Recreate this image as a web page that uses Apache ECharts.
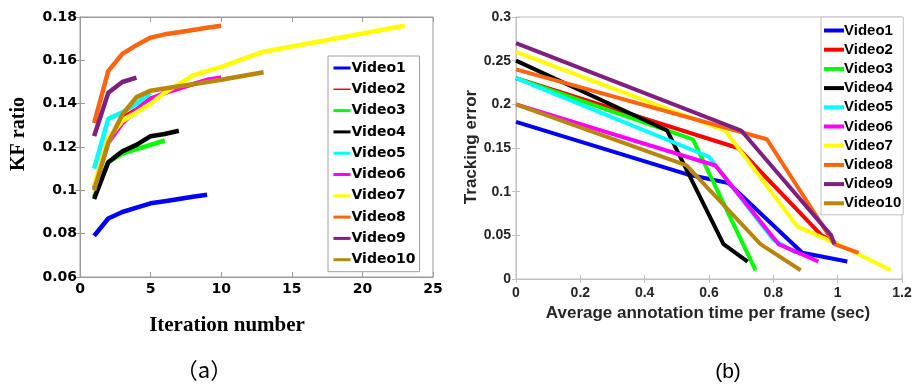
<!DOCTYPE html>
<html>
<head>
<meta charset="utf-8">
<script src="https://cdn.jsdelivr.net/npm/echarts@6/dist/echarts.min.js"></script>
<style>html,body{margin:0;padding:0;background:#fff;}#c{width:916px;height:384px;}</style>
</head>
<body>
<div id="c"></div>
<script>
// ---- Data ----
const names = ['Video1','Video2','Video3','Video4','Video5','Video6','Video7','Video8','Video9','Video10'];
const colors = ['#0000ff','#ff0000','#00ff00','#000000','#00ffff','#ff00ff','#ffff00','#ff6410','#7f1f7f','#b8860b'];

// (a) KF ratio vs iteration number
const iter1 = [1,2,3,4,5,6,7,8,9];
const kf1 = [0.079,0.087,0.090,0.092,0.094,0.095,0.096,0.097,0.098];
const iter2 = [1,2,3,4,5,6,7,8,9,10];
const kf2 = [0.101,0.122,0.134,0.138,0.143,0.145,0.147,0.149,0.151,0.152];
const iter3 = [1,2,3,4,5,6];
const kf3 = [0.097,0.113,0.117,0.119,0.121,0.123];
const iter4 = [1,2,3,4,5,6,7];
const kf4 = [0.096,0.113,0.118,0.121,0.125,0.126,0.1275];
const iter5 = [1,2,3,4,5];
const kf5 = [0.110,0.133,0.136,0.140,0.145];
const iter6 = [1,2,3,4,5,6,7,8,9,10];
const kf6 = [0.101,0.122,0.131,0.137,0.142,0.145,0.147,0.149,0.151,0.152];
const iter7 = [1,2,3,4,5,6,7,8,9,10,13,23];
const kf7 = [0.102,0.124,0.132,0.136,0.140,0.145,0.149,0.153,0.155,0.157,0.164,0.176];
const iter8 = [1,2,3,4,5,6,7,8,9,10];
const kf8 = [0.131,0.155,0.163,0.167,0.1705,0.172,0.173,0.174,0.175,0.176];
const iter9 = [1,2,3,4];
const kf9 = [0.125,0.145,0.150,0.152];
const iter10 = [1,2,3,4,5,6,7,8,9,10,13];
const kf10 = [0.100,0.122,0.135,0.143,0.146,0.147,0.148,0.149,0.150,0.151,0.1545];

// (b) Tracking error vs average annotation time per frame
const time1 = [0,0.53,0.66,0.89,1.03];
const err1 = [0.18,0.12,0.11,0.03,0.02];
const time2 = [0,0.69,0.95,1.0];
const err2 = [0.23,0.15,0.05,0.04];
const time3 = [0,0.55,0.745];
const err3 = [0.23,0.16,0.01];
const time4 = [0,0.47,0.645,0.72];
const err4 = [0.25,0.17,0.04,0.02];
const time5 = [0,0.60,0.80,0.87];
const err5 = [0.23,0.14,0.045,0.03];
const time6 = [0,0.62,0.816,0.94];
const err6 = [0.20,0.13,0.04,0.02];
const time7 = [0,0.65,0.875,1.0,1.165];
const err7 = [0.26,0.17,0.06,0.04,0.01];
const time8 = [0,0.78,0.99,1.065];
const err8 = [0.24,0.16,0.04,0.03];
const time9 = [0,0.70,0.98,0.99];
const err9 = [0.27,0.17,0.05,0.04];
const time10 = [0,0.53,0.76,0.885];
const err10 = [0.20,0.13,0.04,0.01];

const xTicksA = [0,5,10,15,20,25];
const yTicksA = [0.06,0.08,0.1,0.12,0.14,0.16,0.18];
const xTicksB = [0,0.2,0.4,0.6,0.8,1,1.2];
const yTicksB = [0,0.05,0.1,0.15,0.2,0.25,0.3];

// ---- Build ----
const itersA = [iter1,iter2,iter3,iter4,iter5,iter6,iter7,iter8,iter9,iter10];
const kfA = [kf1,kf2,kf3,kf4,kf5,kf6,kf7,kf8,kf9,kf10];
const timesB = [time1,time2,time3,time4,time5,time6,time7,time8,time9,time10];
const errsB = [err1,err2,err3,err4,err5,err6,err7,err8,err9,err10];
const zip = (a,b) => a.map((v,i)=>[v,b[i]]);

const fmt = v => String(+v.toFixed(2));
const fontA = 'DejaVu Sans';
const fontB = 'Liberation Sans';

function axisBase(color, labels, font, fontSize, labColor, margin, tickLen) {
  return {
    axisLine: {show: true, lineStyle: {color: color, width: 1}},
    axisTick: {show: true, inside: true, length: tickLen, lineStyle: {color: color}},
    splitLine: {show: false},
    axisLabel: {show: labels, fontFamily: font, fontWeight: 'bold', fontSize: fontSize, color: labColor, margin: margin, formatter: fmt}
  };
}

const xAxes = [
  Object.assign({type:'value', gridIndex:0, min:xTicksA[0], max:xTicksA[xTicksA.length-1], interval:5, position:'bottom'}, axisBase('#9a9a9a', true, fontA, 14, '#000', 5, 5)),
  Object.assign({type:'value', gridIndex:0, min:xTicksA[0], max:xTicksA[xTicksA.length-1], interval:5, position:'top'}, axisBase('#9a9a9a', false, fontA, 14, '#000', 5, 5)),
  Object.assign({type:'value', gridIndex:1, min:xTicksB[0], max:xTicksB[xTicksB.length-1], interval:0.2, position:'bottom'}, axisBase('#c0c0c0', true, fontB, 14, '#262626', 7, 4)),
  Object.assign({type:'value', gridIndex:1, min:xTicksB[0], max:xTicksB[xTicksB.length-1], interval:0.2, position:'top'}, axisBase('#c0c0c0', false, fontB, 14, '#262626', 7, 4))
];
const yAxes = [
  Object.assign({type:'value', gridIndex:0, min:yTicksA[0], max:yTicksA[yTicksA.length-1], interval:0.02, position:'left'}, axisBase('#9a9a9a', true, fontA, 14, '#000', 3, 5)),
  Object.assign({type:'value', gridIndex:0, min:yTicksA[0], max:yTicksA[yTicksA.length-1], interval:0.02, position:'right'}, axisBase('#9a9a9a', false, fontA, 14, '#000', 3, 5)),
  Object.assign({type:'value', gridIndex:1, min:yTicksB[0], max:yTicksB[yTicksB.length-1], interval:0.05, position:'left'}, axisBase('#c0c0c0', true, fontB, 14, '#262626', 5, 4)),
  Object.assign({type:'value', gridIndex:1, min:yTicksB[0], max:yTicksB[yTicksB.length-1], interval:0.05, position:'right'}, axisBase('#c0c0c0', false, fontB, 14, '#262626', 5, 4))
];

const series = [];
names.forEach((n,i)=>{
  series.push({
    name: n, type: 'line', xAxisIndex: 0, yAxisIndex: 0,
    data: zip(itersA[i], kfA[i]), symbol: 'none', showSymbol: false, smooth: false, silent: true,
    lineStyle: {color: colors[i], width: i === 1 ? 2 : 4.5}, itemStyle: {color: colors[i]},
    z: 2 + i * 0.01
  });
});
names.forEach((n,i)=>{
  series.push({
    name: n, type: 'line', xAxisIndex: 2, yAxisIndex: 2,
    data: zip(timesB[i], errsB[i]), symbol: 'none', showSymbol: false, smooth: false, silent: true,
    lineStyle: {color: colors[i], width: 4}, itemStyle: {color: colors[i]},
    z: 2 + i * 0.01
  });
});

const legendA = {
  orient: 'vertical', left: 328, top: 56, padding: [4.5, 4, 4.5, 4],
  itemWidth: 17, itemHeight: 14, itemGap: 6.3,
  borderColor: '#a0a0a0', borderWidth: 1, backgroundColor: '#fff',
  selectedMode: false,
  textStyle: {fontFamily: fontA, fontWeight: 'bold', fontSize: 14, color: '#000', lineHeight: 15, padding: [0,0,0,-4]},
  itemStyle: {opacity: 0},
  lineStyle: {width: 3},
  data: names.map((n,i)=> i === 1 ? {name: n, lineStyle: {width: 1.5}} : {name: n})
};
const legendB = {
  orient: 'vertical', left: 821, top: 17, padding: [6, 2, 4, 1],
  itemWidth: 20, itemHeight: 14, itemGap: 4.2,
  borderColor: '#c0c0c0', borderWidth: 1, backgroundColor: '#fff',
  selectedMode: false,
  textStyle: {fontFamily: fontB, fontWeight: 'bold', fontSize: 15, color: '#000', lineHeight: 15, padding: [0,0,0,-5]},
  itemStyle: {opacity: 0},
  lineStyle: {width: 4},
  data: names.map(n=>({name: n, lineStyle: {width: 4}}))
};

const option = {
  animation: false,
  backgroundColor: '#fff',
  grid: [
    {left: 80, top: 17, width: 353, height: 260, show: true, borderColor: '#9a9a9a', borderWidth: 1, backgroundColor: '#fff'},
    {left: 516, top: 17, width: 386, height: 262, show: true, borderColor: '#c0c0c0', borderWidth: 1, backgroundColor: '#fff'}
  ],
  xAxis: xAxes,
  yAxis: yAxes,
  legend: [legendA, legendB],
  series: series,
  graphic: [
    {type:'text', x: 227, y: 326, style:{text:'Iteration number', fontFamily:'Liberation Serif', fontWeight:'bold', fontSize:21, fill:'#000', textAlign:'center', textVerticalAlign:'middle'}},
    {type:'text', x: 19, y: 134, rotation: Math.PI/2, style:{text:'KF ratio', fontFamily:'Liberation Serif', fontWeight:'bold', fontSize:20, fill:'#000', textAlign:'center', textVerticalAlign:'middle'}},
    {type:'text', x: 708, y: 313, style:{text:'Average annotation time per frame (sec)', fontFamily:'Liberation Sans', fontWeight:'bold', fontSize:17, fill:'#262626', textAlign:'center', textVerticalAlign:'middle'}},
    {type:'text', x: 471, y: 147, rotation: Math.PI/2, style:{text:'Tracking error', fontFamily:'Liberation Sans', fontWeight:'bold', fontSize:17, fill:'#262626', textAlign:'center', textVerticalAlign:'middle'}},
    {type:'text', x: 204, y: 370, style:{text:'（a）', fontFamily:'Noto Sans CJK SC', fontSize:22, fill:'#000', textAlign:'center', textVerticalAlign:'middle'}},
    {type:'text', x: 728, y: 372, style:{text:'(b)', fontFamily:'Liberation Sans', fontSize:21, fill:'#000', textAlign:'center', textVerticalAlign:'middle'}}
  ]
};

const chart = echarts.init(document.getElementById('c'), null, {renderer: 'canvas'});
chart.setOption(option);
</script>
</body>
</html>
